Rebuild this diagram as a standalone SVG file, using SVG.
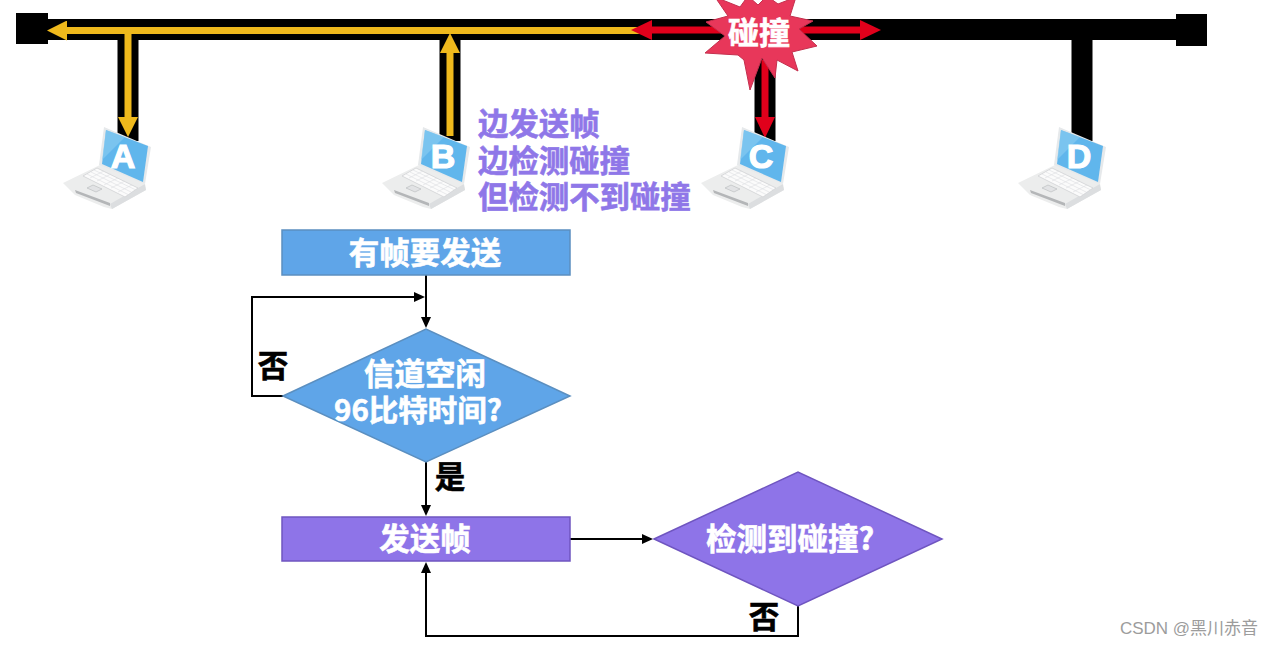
<svg xmlns="http://www.w3.org/2000/svg" width="1273" height="647" viewBox="0 0 1273 647">
<style>
text{font-family:"Noto Sans CJK SC","Liberation Sans",sans-serif;font-weight:700;text-anchor:middle;dominant-baseline:central}
.w{fill:#fff;font-size:30.5px;stroke:#fff;stroke-width:.6}
.k{fill:#000;font-size:30.5px;stroke:#000;stroke-width:.6}
.p{fill:#8f77e8;font-size:30.4px;text-anchor:start;stroke:#8f77e8;stroke-width:.6}
.bus{stroke:#000;stroke-width:21;fill:none}
.y{stroke:#efb91c;stroke-width:7;fill:none}
.r{stroke:#e0001b;stroke-width:7;fill:none}
.f{stroke:#000;stroke-width:2;fill:none}
.blue{fill:#5fa5e8;stroke:#5b8fc0;stroke-width:1.5}
.pur{fill:#8e74e8;stroke:#6f55c0;stroke-width:1.5}
.let{fill:#fff;font-family:"Liberation Sans",sans-serif;font-size:34px;stroke:#fff;stroke-width:1.2;dominant-baseline:auto}
</style>
<defs>
<marker id="ay" markerUnits="userSpaceOnUse" markerWidth="20" markerHeight="20" refX="0" refY="10" orient="auto"><polygon points="0,0 20,10 0,20" fill="#efb91c"/></marker>
<marker id="ar" markerUnits="userSpaceOnUse" markerWidth="21" markerHeight="20" refX="0" refY="10" orient="auto"><polygon points="0,0 21,10 0,20" fill="#e0001b"/></marker>
<marker id="af" markerUnits="userSpaceOnUse" markerWidth="11" markerHeight="10" refX="1" refY="5" orient="auto"><polygon points="0,0 11,5 0,10" fill="#000"/></marker>
<g id="laptop">
<polygon points="63,183 100,165 144,183 146,190 112,209 104,207 75,195" fill="#eceded"/>
<polygon points="75,190 110,203 110,206 76,193" fill="#b4b6b8"/>
<polygon points="112,209 110,204 145,184 146,190" fill="#dcdee0"/>
<polygon points="83,176 97,168 138,188 125,197" fill="#fbfbfb" stroke="#d0d2d4" stroke-width=".8"/>
<path d="M87,174L129,195M91,172L133,193M94,170L136,190M90,178L104,171M97,181L111,174M104,185L118,178M111,188L125,181M118,192L132,185" stroke="#dcdee0" stroke-width=".6" fill="none"/>
<polygon points="87,188 93,185 102,189 96,192" fill="#e2e3e5" stroke="#b5b8bb" stroke-width=".6"/>
<polygon points="104,127 151,147 145,184 99,165" fill="#e6e9eb"/>
<polygon points="106,130 148,146 143,182 102,164" fill="#60b6ec"/>
<polygon points="106,130 125,137 102,160" fill="#8ccdf2" opacity=".6"/>
</g>
</defs>
<g id="connectors">
<rect x="16" y="13" width="32" height="31" fill="#000"/>
<rect x="1176" y="14" width="31" height="32" fill="#000"/>
<path class="bus" d="M48,29.500H1176"/>
<path class="bus" d="M128,40V141M450,40V141M765,40V141M1082,40V141"/>
<path class="y" d="M640,30.500H67" marker-end="url(#ay)"/>
<path class="y" d="M128,27V117" marker-end="url(#ay)"/>
<path class="y" d="M450,136V53" marker-end="url(#ay)"/>
<path class="r" d="M750,30H652" marker-end="url(#ar)"/>
<path class="r" d="M770,30H860" marker-end="url(#ar)"/>
<path class="r" d="M765,60V117" marker-end="url(#ar)"/>
<path class="f" d="M426,275V318" marker-end="url(#af)"/>
<path class="f" d="M283,396H252V297H415" marker-end="url(#af)"/>
<path class="f" d="M426,462V506" marker-end="url(#af)"/>
<path class="f" d="M570,539H643" marker-end="url(#af)"/>
<path class="f" d="M798,606V636H426V572" marker-end="url(#af)"/>
</g>
<g id="collision">
<polygon points="706,22 728,16 715,-3 740,7 748,-4 758,5 767,-4 778,4 796,-3 790,16 813,21 799,29 817,46 792,52 798,71 777,60 775,78 762,58 750,90 744,60 738,55 705,53 725,36" fill="#e8375a" stroke="#c4304e" stroke-width="1"/>
<text class="w" x="759" y="30" style="font-size:31px">碰撞</text>
</g>
<g id="node-a"><use href="#laptop"/><text class="let" x="123" y="168">A</text></g>
<g id="node-b"><use href="#laptop" x="319"/><text class="let" x="443" y="168">B</text></g>
<g id="node-c"><use href="#laptop" x="638"/><text class="let" x="761" y="168">C</text></g>
<g id="node-d"><use href="#laptop" x="955"/><text class="let" x="1079" y="168">D</text></g>
<g id="note">
<text class="p" x="478" y="122">边发送帧<tspan x="478" dy="36.500">边检测碰撞</tspan><tspan x="478" dy="36.500">但检测不到碰撞</tspan></text>
</g>
<g id="start"><rect class="blue" x="282" y="230" width="288" height="45"/><text class="w" x="425" y="251">有帧要发送</text></g>
<g id="idle"><polygon class="blue" points="283,396 426,329 570,396 426,462"/><text class="w" x="425" y="372">信道空闲<tspan x="418" dy="36" style="font-size:29.500px">96比特时间?</tspan></text></g>
<g id="send"><rect class="pur" x="282" y="517" width="288" height="44"/><text class="w" x="425" y="537">发送帧</text></g>
<g id="detect"><polygon class="pur" points="654,539 798,472 942,539 798,606"/><text class="w" x="790" y="537">检测到碰撞?</text></g>
<g id="labels">
<text class="k" x="273" y="364">否</text>
<text class="k" x="450" y="475">是</text>
<text class="k" x="764" y="615">否</text>
<text x="1189" y="628" style="font-family:'Liberation Sans','Noto Sans CJK SC',sans-serif;font-weight:400;font-size:17px;fill:#9c9c9c">CSDN @黑川赤音</text>
</g>
</svg>
